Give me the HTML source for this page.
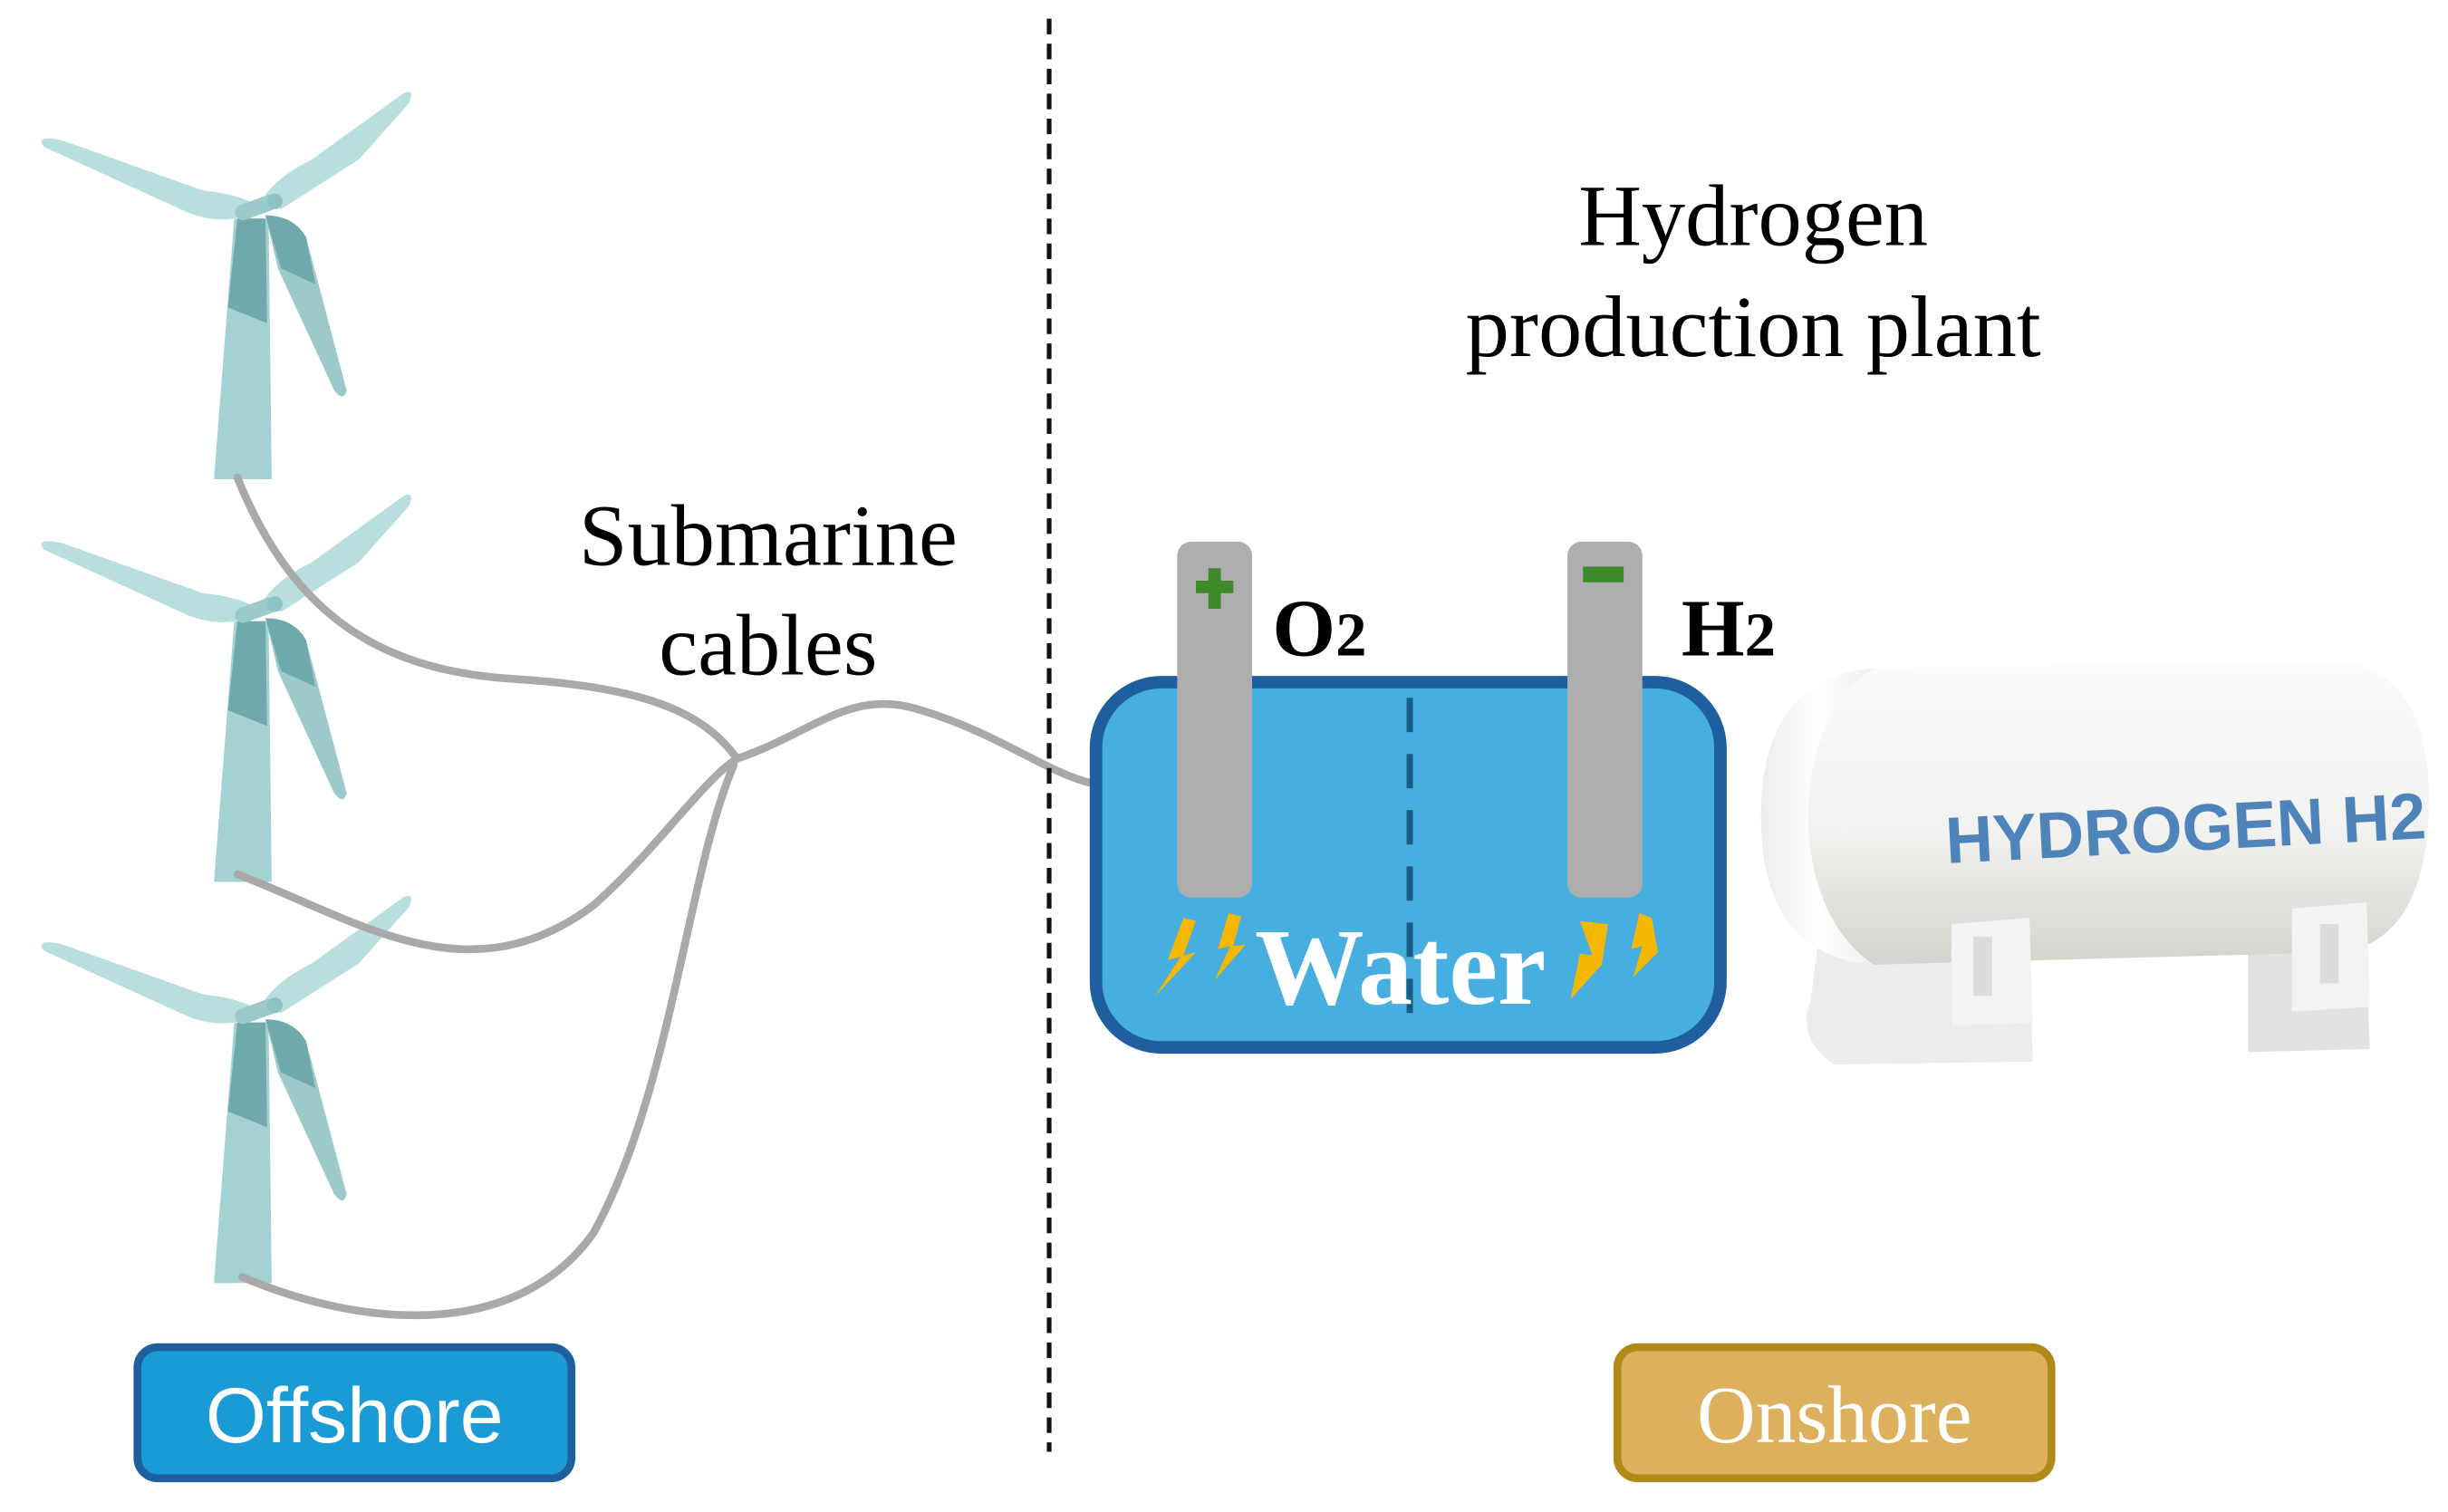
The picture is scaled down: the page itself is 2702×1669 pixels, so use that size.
<!DOCTYPE html>
<html><head><meta charset="utf-8"><style>html,body{margin:0;padding:0;background:#fff}svg{display:block}</style></head>
<body>
<svg width="2702" height="1669" viewBox="0 0 1568 968.6" xmlns="http://www.w3.org/2000/svg">
<defs>
<g id="tb">
 <path d="M150,8 L172,8 L174,175 L137,175 Z" fill="#a4d2d2"/>
 <path d="M152,8 L170,8 L171,75 L146,65 Z" fill="#6fa9ac"/>
 <path d="M162,-2 Q150,-8 130,-10 L40,-42 Q22,-46 28,-38 L120,4 Q140,12 158,6 Z" fill="#b8dedd"/>
 <path d="M168,-4 Q176,-18 200,-30 L258,-72 Q266,-76 262,-66 L230,-30 L180,2 Z" fill="#b8dedd"/>
 <path d="M170,6 Q188,6 196,20 L222,118 Q220,126 214,118 L178,40 Z" fill="#9ccaca"/>
 <path d="M170,6 Q188,6 196,20 L202,50 L180,40 Z" fill="#6fa9ac"/>
 <rect x="150" y="-4" width="28" height="10" rx="5" fill="#9ccaca" transform="rotate(-20 164 1)"/>
 <circle cx="176" cy="-3" r="5" fill="#8fc3c3"/>
</g>
<linearGradient id="tk" x1="0" y1="0" x2="0" y2="1">
<stop offset="0" stop-color="#fbfbfb"/><stop offset="0.55" stop-color="#f2f2f0"/><stop offset="1" stop-color="#d2d5cd"/></linearGradient>
<linearGradient id="tk2" x1="0" y1="0" x2="1" y2="0">
<stop offset="0" stop-color="#ececec"/><stop offset="0.5" stop-color="#ffffff"/><stop offset="1" stop-color="#f0f0f0"/></linearGradient>
</defs>
<use href="#tb" x="0" y="132"/>
<use href="#tb" x="0" y="390"/>
<use href="#tb" x="0" y="647"/>
<g fill="none" stroke="#a9a9a9" stroke-width="5" stroke-linecap="round">
<path d="M152,306 C190,400 250,430 330,435 C410,440 450,455 472,486"/>
<path d="M152,560 C230,590 300,640 380,580 C420,545 450,500 472,486"/>
<path d="M155,818 C230,850 330,860 380,790 C430,700 440,560 470,490"/>
<path d="M472,486 C520,470 545,440 590,455 C640,470 670,495 700,502"/>
</g>
<line x1="672" y1="12" x2="672" y2="930" stroke="#111" stroke-width="3" stroke-dasharray="10,6"/>
<g font-family="Liberation Serif, serif" text-anchor="middle" fill="#000">
<text x="492" y="362" font-size="56">Submarine</text>
<text x="492" y="432" font-size="56">cables</text>
<text x="1123" y="157" font-size="56">Hydrogen</text>
<text x="1123" y="228" font-size="56">production plant</text>
</g>
<rect x="702" y="437" width="400" height="234" rx="42" fill="#47aee0" stroke="#1f5f9f" stroke-width="8"/>
<line x1="903" y1="447" x2="903" y2="660" stroke="#1a5a84" stroke-width="4" stroke-dasharray="22,14"/>
<rect x="754" y="347" width="48" height="228" rx="9" fill="#aeaeae"/>
<rect x="1004" y="347" width="48" height="228" rx="9" fill="#aeaeae"/>
<path d="M774,364h8v8h8v8h-8v10h-8v-10h-8v-8h8z" fill="#3c8a2a"/>
<rect x="1014" y="363" width="26" height="10" fill="#3c8a2a"/>
<g font-family="Liberation Serif, serif" font-weight="bold" fill="#000">
<text x="815" y="420" font-size="52">O<tspan font-size="40">2</tspan></text>
<text x="1077" y="420" font-size="52">H<tspan font-size="40">2</tspan></text>
</g>
<text x="897" y="643" font-family="Liberation Serif, serif" font-weight="bold" font-size="70" fill="#fff" text-anchor="middle">Water</text>
<g fill="#f5b800">
<path d="M758,588 L748,615 L756,613 L740,638 L766,610 L758,612 L766,590 Z"/>
<path d="M787,585 L780,608 L788,606 L778,628 L798,605 L790,606 L795,587 Z"/>
<path d="M1012,590 L1020,612 L1012,611 L1006,640 L1026,618 L1030,592 Z"/>
<path d="M1050,585 L1045,608 L1052,606 L1046,626 L1062,610 L1058,588 Z"/>
</g>
<!-- tank -->
<path d="M1165,600 L1300,605 L1302,680 L1175,682 Q1150,665 1160,640 Z" fill="#ececec"/>
<path d="M1440,600 L1515,596 L1518,672 L1440,674 Z" fill="#e2e2e2"/>
<path d="M1200,428 L1500,424 Q1556,430 1556,515 Q1554,602 1500,610 L1200,618 Q1128,612 1128,523 Q1128,434 1200,428 Z" fill="url(#tk)"/>
<path d="M1200,428 Q1128,434 1128,523 Q1128,612 1200,618 Q1160,590 1158,523 Q1160,455 1200,428 Z" fill="url(#tk2)"/>
<path d="M1250,592 L1300,588 L1302,655 L1250,657 Z" fill="#f3f3f3"/>
<path d="M1468,582 L1516,578 L1518,645 L1468,648 Z" fill="#f3f3f3"/>
<rect x="1264" y="600" width="12" height="38" fill="#dcdcdc"/>
<rect x="1486" y="592" width="12" height="38" fill="#dcdcdc"/>
<text x="1400" y="545" font-family="Liberation Sans, sans-serif" font-weight="bold" font-size="42" fill="#4f84bb" text-anchor="middle" transform="rotate(-3 1400 530)">HYDROGEN H2</text>
<rect x="88" y="863" width="278" height="84" rx="13" fill="#1a9bd6" stroke="#1e5f9e" stroke-width="5"/>
<text x="227" y="924" font-family="Liberation Sans, sans-serif" font-size="50" fill="#fff" text-anchor="middle">Offshore</text>
<rect x="1036" y="863" width="278" height="84" rx="13" fill="#ddb05e" stroke="#b08a18" stroke-width="5"/>
<text x="1175" y="924" font-family="Liberation Serif, serif" font-size="52" fill="#fff" text-anchor="middle">Onshore</text>
</svg>
</body></html>
